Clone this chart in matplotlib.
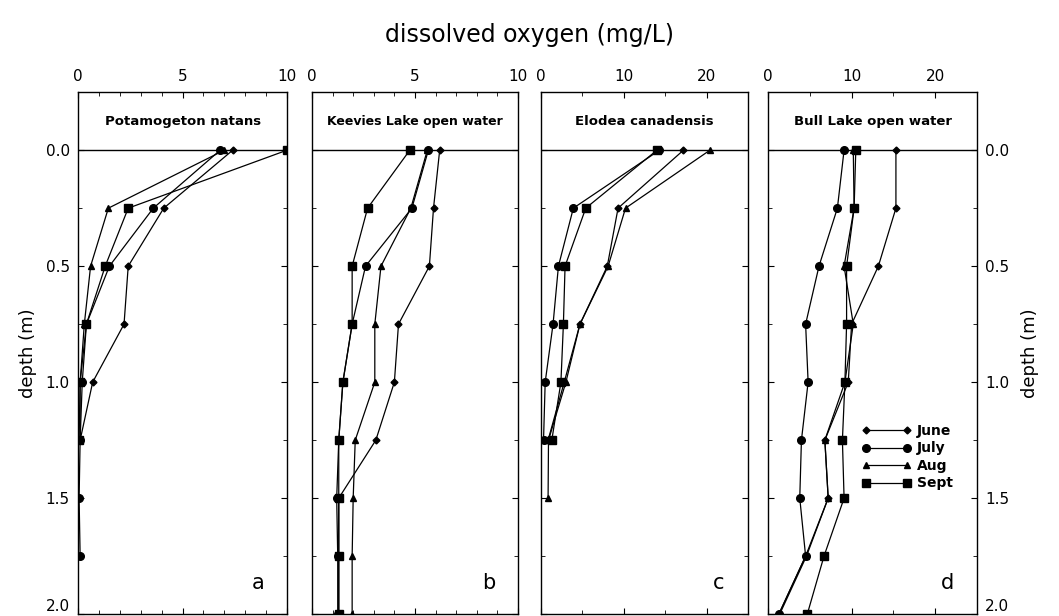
import numpy as np
import matplotlib.pyplot as plt
from matplotlib.ticker import MultipleLocator

plt.rcParams['font.family'] = ['DejaVu Sans']

# sampling depths (m)
depth = [0.0, 0.25, 0.5, 0.75, 1.0, 1.25, 1.5, 1.75, 2.0]
months = ['June', 'July', 'Aug', 'Sept']

# dissolved oxygen (mg/L) per site and month; shorter lists stop where sampling stopped
pot_june = [7.4, 4.1, 2.4, 2.2, 0.7, 0.1]
pot_july = [6.8, 3.6, 1.5, 0.4, 0.2, 0.1, 0.05, 0.1]
pot_aug = [7.0, 1.45, 0.6, 0.3, 0.1, 0.1]
pot_sept = [10.0, 2.4, 1.3, 0.4, 0.1, 0.05]

kee_june = [6.2, 5.9, 5.7, 4.2, 4.0, 3.1, 1.3, 1.3, 1.3]
kee_july = [5.65, 4.85, 2.6, 1.95, 1.5, 1.3, 1.2, 1.25, 1.25]
kee_aug = [5.6, 4.8, 3.35, 3.05, 3.05, 2.1, 2.0, 1.95, 1.95]
kee_sept = [4.75, 2.7, 1.95, 1.95, 1.5, 1.3, 1.3, 1.3, 1.3]

elo_june = [17.2, 9.3, 8.0, 4.7, 2.8, 0.85]
elo_july = [14.3, 3.9, 2.1, 1.45, 0.5, 0.3]
elo_aug = [20.4, 10.2, 8.1, 4.7, 3.0, 0.9, 0.85]
elo_sept = [14.0, 5.4, 2.9, 2.7, 2.4, 1.3]

bull_june = [15.3, 15.3, 13.2, 10.0, 9.6, 6.8, 7.2, 4.5, 1.3]
bull_july = [9.1, 8.3, 6.1, 4.5, 4.8, 4.0, 3.8, 4.5, 1.3]
bull_aug = [10.2, 10.3, 9.1, 10.2, 9.2, 6.8, 7.2, 4.6, 1.4]
bull_sept = [10.5, 10.3, 9.4, 9.4, 9.2, 8.9, 9.1, 6.7, 4.7]

sites = [
    ('Potamogeton natans', [pot_june, pot_july, pot_aug, pot_sept], 10, 5, 1, 'a'),
    ('Keevies Lake open water', [kee_june, kee_july, kee_aug, kee_sept], 10, 5, 1, 'b'),
    ('Elodea canadensis', [elo_june, elo_july, elo_aug, elo_sept], 25, 10, 5, 'c'),
    ('Bull Lake open water', [bull_june, bull_july, bull_aug, bull_sept], 25, 10, 5, 'd'),
]

markers = {'June': ('D', 3.5), 'July': ('o', 5.5), 'Aug': ('^', 5), 'Sept': ('s', 5.5)}

fig = plt.figure(figsize=(10.59, 6.16), dpi=100)
lefts = [0.0737, 0.2946, 0.5109, 0.7252]
widths = [0.1974, 0.1945, 0.1955, 0.1974]

for i, (name, series, xmax, major, minor, letter) in enumerate(sites):
    ax = fig.add_axes([lefts[i], 0.003, widths[i], 0.8474])
    for m, vals in zip(months, series):
        mk, ms = markers[m]
        ax.plot(vals, depth[:len(vals)], color='black', lw=0.9,
                marker=mk, ms=ms, label=m)
    ax.axhline(0, color='black', lw=1.0)
    ax.set_xlim(0, xmax)
    ax.set_ylim(2.0, -0.25)
    ax.xaxis.set_major_locator(MultipleLocator(major))
    ax.xaxis.set_minor_locator(MultipleLocator(minor))
    ax.yaxis.set_major_locator(MultipleLocator(0.5))
    ax.yaxis.set_minor_locator(MultipleLocator(0.25))
    ax.tick_params(which='both', direction='in', top=True, bottom=True,
                   left=True, right=True, labeltop=True, labelbottom=False,
                   labelleft=(i == 0), labelright=(i == 3), labelsize=11,
                   pad=6)
    ax.tick_params(which='major', length=4)
    ax.tick_params(which='minor', length=3)
    ax.set_yticks([0.0, 0.5, 1.0, 1.5, 2.0])
    ax.set_yticklabels(['0.0', '0.5', '1.0', '1.5', '2.0'])
    # keep the bottom depth label inside the figure
    for t in ax.get_yticklabels()[-1:] + [ax.yaxis.get_major_ticks()[-1].label2]:
        t.set_va('bottom')
    for s in ax.spines.values():
        s.set_linewidth(1.0)
    ax.text(0.5, 0.943, name, transform=ax.transAxes, ha='center',
            va='center', fontsize=9.5 if i != 1 else 9, fontweight='bold')
    ax.text(0.86, 0.06, letter, transform=ax.transAxes, ha='center',
            va='center', fontsize=15)
    if i == 0:
        ax.set_ylabel('depth (m)', fontsize=13, labelpad=6)
    if i == 3:
        ax.yaxis.set_label_position('right')
        ax.set_ylabel('depth (m)', fontsize=13, rotation=90, labelpad=8)
        ax.legend(loc='upper left', bbox_to_anchor=(0.42, 0.375), frameon=False,
                  numpoints=2, prop={'size': 10, 'weight': 'bold'},
                  handlelength=3.6, handletextpad=0.4,
                  labelspacing=0.25, borderaxespad=0)

fig.text(0.5, 0.943, 'dissolved oxygen (mg/L)', ha='center', va='center',
         fontsize=17)

fig.savefig('out.png', dpi=100)
